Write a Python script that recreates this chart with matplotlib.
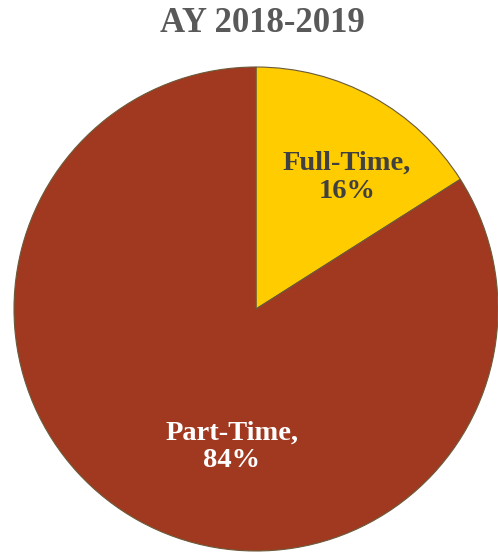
import matplotlib.pyplot as plt
import numpy as np

categories = ["Full-Time", "Part-Time"]
shares = [16, 84]
colors = ["#FFCC00", "#A0391F"]
label_colors = ["#404040", "#FFFFFF"]
title = "AY 2018-2019"

plt.rcParams['font.family'] = ['Liberation Serif', 'DejaVu Serif']

fig = plt.figure(figsize=(4.98, 5.54), dpi=100)
# pie centre at about (256, 309) px, radius 242 px
ax = fig.add_axes([14 / 498, 3 / 554, 484 / 498, 484 / 554])

wedges, texts = ax.pie(shares, colors=colors, startangle=90, counterclock=False,
                       radius=1.0, labels=None,
                       wedgeprops=dict(edgecolor="#6b5a3a", linewidth=0.8))
ax.set_xlim(-1, 1)
ax.set_ylim(-1, 1)
ax.set_aspect('equal')
ax.axis('off')

# label spots (polar, fraction of radius / degrees)
spots = [(0.662, 55.4), (0.579, -100)]
for cat, val, col, (r, a) in zip(categories, shares, label_colors, spots):
    ax.text(r * np.cos(np.radians(a)), r * np.sin(np.radians(a)),
            f"{cat},\n{val}%", ha='center', va='center', color=col,
            fontsize=20.5, fontweight='bold', linespacing=1.15)

fig.text(262 / 498, 1 - 23 / 554, title, ha='center', va='center',
         fontsize=25, fontweight='bold', color='#595959')

fig.savefig("out.png", dpi=100)
